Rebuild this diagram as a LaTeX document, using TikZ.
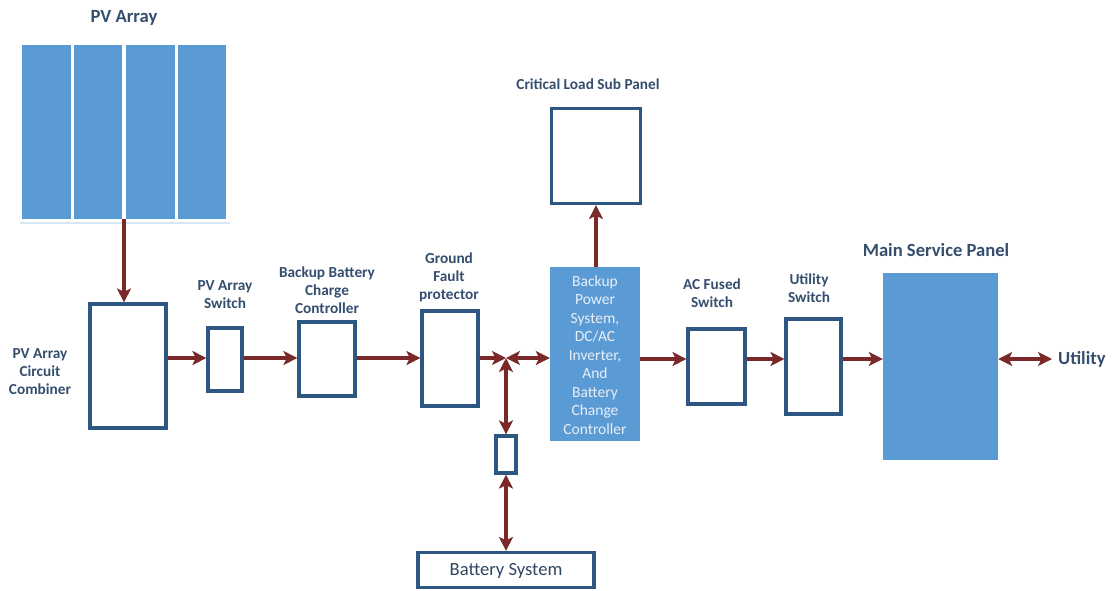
\documentclass[tikz,border=0pt]{standalone}
\usepackage{fontspec}
\setmainfont{Carlito}
\usetikzlibrary{arrows.meta}
\definecolor{labelblue}{RGB}{52,78,110}
\definecolor{boxblue}{RGB}{46,86,130}
\definecolor{fillblue}{RGB}{91,155,213}
\definecolor{wire}{RGB}{122,40,40}
\definecolor{paletxt}{RGB}{232,238,247}
\tikzset{
  box/.style={draw=boxblue, line width=3.2pt, fill=white, inner sep=0pt},
  solid panel/.style={fill=fillblue, draw=none, inner sep=0pt},
  panel strip/.style={fill=fillblue, draw=none},
  lbl/.style={text=labelblue, font=\bfseries\fontsize{15.3}{18}\selectfont, align=center, inner sep=0pt},
  biglbl/.style={text=labelblue, font=\bfseries\fontsize{18.6}{22}\selectfont, inner sep=0pt},
  arr/.style={draw=wire, line width=3.3pt, -{Stealth[length=14pt,width=14pt,inset=3.5pt]}},
  darr/.style={draw=wire, line width=3.3pt, {Stealth[length=14pt,width=14pt,inset=3.5pt]}-{Stealth[length=14pt,width=14pt,inset=3.5pt]}}
}
\begin{document}
\begin{tikzpicture}[x=1pt,y=-1pt]
\useasboundingbox (0,0) rectangle (1114,590);

% PV array: four panel strips
\foreach \xa/\xb in {22/71,74/122,126/175,178/226}
  \fill[panel strip] (\xa,45) rectangle (\xb,219);
\draw[fillblue!25, line width=1.5pt] (20,223) -- (230,223);
\node[solid panel, minimum width=204pt, minimum height=174pt, fill=none] (pv) at (124,132) {};
\node[biglbl] (pvt) at (124,18) {PV Array};

% boxes
\node[box, minimum width=76pt, minimum height=124pt] (comb) at (128,366) {};
\node[box, minimum width=34pt, minimum height=63pt] (sw) at (225,359.5) {};
\node[box, minimum width=56pt, minimum height=74pt] (bbcc) at (327,359) {};
\node[box, minimum width=56pt, minimum height=95pt] (gf) at (450,358.5) {};
\node[solid panel, minimum width=90pt, minimum height=174pt] (bps) at (595,354) {};
\node[box, minimum width=89pt, minimum height=95pt] (crit) at (596,156) {};
\node[box, minimum width=20pt, minimum height=37pt] (small) at (506,454.5) {};
\node[box, minimum width=176pt, minimum height=35pt] (batt) at (506,570) {};
\node[box, minimum width=57pt, minimum height=75pt] (acf) at (716.5,366.5) {};
\node[box, minimum width=55pt, minimum height=95pt] (us) at (813.5,366.5) {};
\node[solid panel, minimum width=115pt, minimum height=187pt] (msp) at (940.5,366.5) {};

% labels
\node[lbl] (lcomb) at (40,372) {PV Array\\Circuit\\Combiner};
\node[lbl] (lsw) at (225,294.5) {PV Array\\Switch};
\node[lbl] (lbbcc) at (327,290) {Backup Battery\\Charge\\Controller};
\node[lbl] (lgf) at (449,277.5) {Ground\\Fault\\protector};
\node[lbl] (lcrit) at (588,84) {Critical Load Sub Panel};
\node[lbl] (lacf) at (712,293) {AC Fused\\Switch};
\node[lbl] (lus) at (809,288.5) {Utility\\Switch};
\node[biglbl] (lmsp) at (936,250) {Main Service Panel};
\node[biglbl, anchor=west] (util) at (1058,359) {Utility};
\node[text=paletxt, font=\fontsize{15.5}{18.5}\selectfont, align=center, inner sep=0pt] (lbps) at (595,355) {Backup\\Power\\System,\\DC/AC\\Inverter,\\And\\Battery\\Change\\Controller};
\node[text=labelblue!90!black, font=\fontsize{18.6}{22}\selectfont, inner sep=0pt] (lbatt) at (506,571) {Battery System};

% junction where the DC bus meets the battery branch
\coordinate (j) at (506,358);
\coordinate (row) at (0,358);
\coordinate (acrow) at (0,359);

% connectors
\draw[arr] (pv.south) -- (pv.south |- comb.north);
\draw[arr] (comb.east |- row) -- (sw.west |- row);
\draw[arr] (sw.east |- row) -- (bbcc.west |- row);
\draw[arr] (bbcc.east |- row) -- (gf.west |- row);
\draw[arr] (gf.east |- row) -- (j);
\draw[darr] (j) -- (bps.west |- j);
\draw[darr] (j) -- (j |- small.north);
\draw[darr] (small.south) -- (batt.north);
\draw[arr] (bps.north -| crit.south) -- (crit.south);
\draw[arr] (bps.east |- acrow) -- (acf.west |- acrow);
\draw[arr] (acf.east |- acrow) -- (us.west |- acrow);
\draw[arr] (us.east |- acrow) -- (msp.west |- acrow);
\draw[darr, shorten >=6pt] (msp.east |- acrow) -- (util.west);
\end{tikzpicture}
\end{document}
